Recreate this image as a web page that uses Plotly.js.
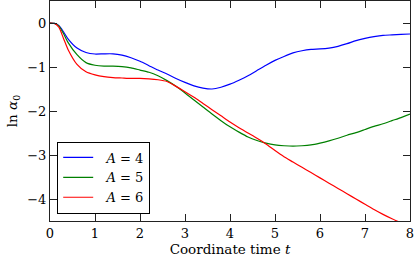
<!DOCTYPE html>
<html>
<head>
<meta charset="utf-8">
<script src="https://cdn.plot.ly/plotly-3.0.1.min.js"></script>
<style>html,body{margin:0;padding:0;background:#fff;}#chart{width:415px;height:260px;}</style>
</head>
<body>
<div id="chart"></div>
<script>
var t = [0,0.1,0.2,0.3,0.4,0.6,0.8,1.0,1.2,1.4,1.6,1.8,2.0,2.2,2.4,2.6,2.8,3.0,3.2,3.4,3.6,3.8,4.0,4.2,4.4,4.6,4.8,5.0,5.2,5.4,5.6,5.8,6.0,6.2,6.4,6.6,6.8,7.0,7.2,7.4,7.6,7.8,8.0];
var lnA4 = [0,-0.01,-0.06,-0.2,-0.36,-0.57,-0.67,-0.705,-0.70,-0.70,-0.73,-0.79,-0.87,-0.97,-1.07,-1.16,-1.26,-1.35,-1.43,-1.48,-1.50,-1.46,-1.39,-1.30,-1.20,-1.08,-0.96,-0.85,-0.76,-0.68,-0.63,-0.60,-0.59,-0.57,-0.53,-0.47,-0.40,-0.35,-0.31,-0.28,-0.27,-0.26,-0.25];
var lnA5 = [0,-0.01,-0.07,-0.24,-0.44,-0.72,-0.90,-0.96,-0.98,-0.98,-0.99,-1.02,-1.07,-1.12,-1.20,-1.31,-1.44,-1.59,-1.75,-1.91,-2.07,-2.22,-2.36,-2.48,-2.59,-2.67,-2.73,-2.77,-2.79,-2.80,-2.79,-2.77,-2.73,-2.68,-2.62,-2.55,-2.49,-2.42,-2.35,-2.29,-2.22,-2.15,-2.07];
var lnA6 = [0,-0.01,-0.1,-0.35,-0.60,-0.94,-1.11,-1.18,-1.22,-1.24,-1.25,-1.26,-1.26,-1.27,-1.29,-1.33,-1.44,-1.56,-1.69,-1.83,-1.97,-2.11,-2.25,-2.38,-2.50,-2.62,-2.75,-2.90,-3.04,-3.16,-3.28,-3.40,-3.52,-3.64,-3.76,-3.88,-4.00,-4.12,-4.24,-4.35,-4.45,-4.54,-4.62];
var names = ['\u00a0\u00a0<i>A</i> = 4','\u00a0\u00a0<i>A</i> = 5','\u00a0\u00a0<i>A</i> = 6'];
var colors = ['#0000ff','#008000','#ff0000'];
var series = [lnA4, lnA5, lnA6];
var xTicks = [0,1,2,3,4,5,6,7,8];
var yTicks = [0,-1,-2,-3,-4];

var FONT = 'DejaVu Serif, Liberation Serif, serif';
var traces = series.map(function(s,i){
  return {x:t, y:s, type:'scatter', mode:'lines', name:names[i], legendgroup:'g'+i,
          line:{color:colors[i], width:1.2, shape:'spline', smoothing:0.6}};
});
var axisCommon = {showgrid:false, zeroline:false, showline:true, linecolor:'#222', linewidth:1,
  ticks:'inside', ticklen:7, tickcolor:'#222', tickwidth:1, mirror:'ticks',
  tickfont:{family:FONT, size:13, color:'#000'}};
var layout = {
  width:415, height:260,
  margin:{l:50, r:5, t:1, b:39},
  paper_bgcolor:'#fff', plot_bgcolor:'#fff',
  font:{family:FONT, size:13, color:'#000'},
  xaxis:Object.assign({}, axisCommon, {range:[0,8], tickvals:xTicks, ticktext:xTicks.map(String),
    title:{text:'Coordinate time <i>t</i>', font:{family:FONT, size:13.5}, standoff:3}}),
  yaxis:Object.assign({}, axisCommon, {range:[-4.5,0.5], tickvals:yTicks,
    title:{text:'ln <i>α</i><sub>0</sub>', font:{family:FONT, size:13.5}, standoff:6}}),
  showlegend:true,
  legend:{x:0.02, y:0.034, xanchor:'left', yanchor:'bottom', bgcolor:'#fff',
    bordercolor:'#000', borderwidth:1, font:{family:FONT, size:13},
    traceorder:'grouped', tracegroupgap:0}
};
Plotly.newPlot('chart', traces, layout, {staticPlot:true, displayModeBar:false});
</script>
</body>
</html>
